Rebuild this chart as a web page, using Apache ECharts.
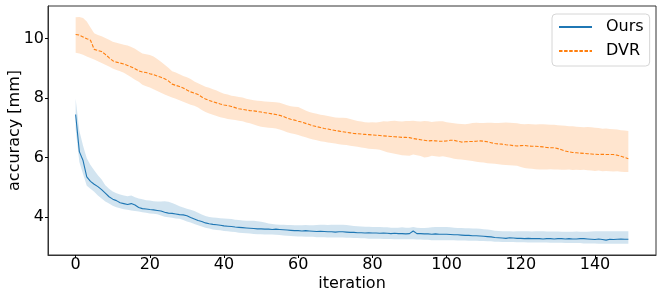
<!DOCTYPE html>
<html>
<head>
<meta charset="utf-8">
<script src="https://cdn.jsdelivr.net/npm/echarts@6/dist/echarts.min.js"></script>
<style>
html,body{margin:0;padding:0;background:#fff;}
#chart{width:664px;height:291px;}
</style>
</head>
<body>
<div id="chart"></div>
<script>
const iterations = Array.from({length: 150}, (_, i) => i);
const xTicks = [0, 20, 40, 60, 80, 100, 120, 140];
const yTicks = [4, 6, 8, 10];
const seriesNames = ['Ours', 'DVR'];

const dvrMean = [
10.14,10.12,10.06,10.00,9.95,9.64,9.60,9.57,9.47,9.36,
9.26,9.21,9.18,9.15,9.10,9.05,8.99,8.92,8.88,8.86,
8.82,8.79,8.74,8.70,8.65,8.58,8.47,8.43,8.39,8.34,
8.27,8.21,8.17,8.12,8.04,7.97,7.92,7.88,7.84,7.80,
7.77,7.75,7.72,7.68,7.64,7.62,7.60,7.58,7.57,7.55,
7.53,7.51,7.49,7.47,7.45,7.42,7.38,7.33,7.29,7.26,
7.22,7.19,7.15,7.11,7.07,7.04,7.01,6.98,6.96,6.93,
6.91,6.89,6.87,6.85,6.83,6.81,6.80,6.79,6.78,6.77,
6.76,6.75,6.74,6.73,6.72,6.71,6.70,6.69,6.68,6.68,
6.67,6.64,6.62,6.60,6.58,6.56,6.57,6.56,6.55,6.55,
6.56,6.58,6.58,6.55,6.52,6.53,6.54,6.54,6.55,6.56,
6.55,6.53,6.50,6.47,6.46,6.45,6.43,6.42,6.40,6.39,
6.40,6.41,6.39,6.38,6.38,6.37,6.36,6.34,6.33,6.33,
6.30,6.26,6.22,6.19,6.17,6.16,6.15,6.14,6.13,6.12,
6.11,6.10,6.11,6.10,6.10,6.10,6.08,6.04,6.00,5.96];

const dvrUpper = [
10.72,10.73,10.70,10.58,10.38,10.18,10.12,10.08,10.02,9.96,
9.90,9.86,9.83,9.80,9.77,9.72,9.66,9.58,9.50,9.48,
9.45,9.40,9.32,9.22,9.12,9.02,8.90,8.86,8.80,8.74,
8.70,8.64,8.56,8.50,8.44,8.38,8.35,8.30,8.26,8.20,
8.15,8.12,8.08,8.06,8.04,8.02,7.98,7.95,7.93,7.91,
7.90,7.89,7.88,7.87,7.86,7.84,7.80,7.76,7.73,7.71,
7.70,7.64,7.58,7.53,7.50,7.47,7.44,7.42,7.40,7.37,
7.35,7.34,7.34,7.33,7.30,7.26,7.23,7.21,7.19,7.18,
7.19,7.18,7.20,7.22,7.21,7.23,7.24,7.22,7.21,7.23,
7.23,7.24,7.22,7.21,7.23,7.22,7.20,7.21,7.22,7.22,
7.19,7.17,7.15,7.14,7.13,7.12,7.14,7.16,7.17,7.16,
7.16,7.17,7.17,7.16,7.16,7.17,7.18,7.17,7.16,7.15,
7.13,7.12,7.13,7.12,7.11,7.12,7.12,7.11,7.10,7.10,
7.09,7.08,7.07,7.05,7.05,7.04,7.03,7.02,7.03,7.02,
7.00,6.99,6.97,6.98,6.96,6.95,6.94,6.92,6.91,6.89];

const dvrLower = [
9.53,9.50,9.46,9.40,9.35,9.30,9.24,9.18,9.12,9.06,
9.00,8.95,8.90,8.85,8.78,8.70,8.62,8.55,8.45,8.40,
8.36,8.30,8.24,8.18,8.12,8.07,8.02,7.98,7.93,7.88,
7.83,7.78,7.74,7.68,7.60,7.53,7.48,7.44,7.40,7.36,
7.33,7.30,7.28,7.26,7.24,7.22,7.18,7.15,7.11,7.07,
7.04,7.02,7.00,6.99,6.98,6.94,6.90,6.85,6.82,6.79,
6.76,6.72,6.68,6.64,6.61,6.58,6.55,6.53,6.51,6.49,
6.47,6.45,6.43,6.42,6.40,6.38,6.36,6.34,6.32,6.30,
6.29,6.28,6.26,6.22,6.18,6.15,6.13,6.10,6.08,6.07,
6.06,6.10,6.08,6.05,6.00,6.02,6.06,6.04,6.03,6.04,
6.02,5.99,5.96,5.94,5.93,5.92,5.90,5.88,5.86,5.84,
5.83,5.81,5.80,5.79,5.77,5.76,5.75,5.74,5.73,5.72,
5.68,5.65,5.63,5.62,5.61,5.60,5.60,5.60,5.61,5.60,
5.60,5.59,5.59,5.60,5.58,5.59,5.58,5.59,5.57,5.56,
5.55,5.56,5.54,5.55,5.54,5.53,5.54,5.52,5.51,5.51];

const oursMean = [
7.45,6.20,5.90,5.35,5.20,5.10,5.02,4.92,4.80,4.68,
4.60,4.55,4.48,4.45,4.42,4.45,4.40,4.32,4.28,4.27,
4.25,4.24,4.22,4.20,4.16,4.13,4.12,4.10,4.08,4.07,
4.04,3.98,3.93,3.88,3.85,3.80,3.77,3.75,3.74,3.72,
3.70,3.69,3.68,3.66,3.65,3.64,3.63,3.62,3.61,3.60,
3.60,3.59,3.59,3.58,3.59,3.58,3.57,3.56,3.55,3.54,
3.54,3.53,3.54,3.53,3.52,3.51,3.52,3.51,3.50,3.50,
3.49,3.50,3.50,3.49,3.48,3.48,3.47,3.47,3.46,3.47,
3.46,3.46,3.45,3.46,3.45,3.44,3.45,3.44,3.44,3.43,
3.44,3.53,3.44,3.44,3.43,3.43,3.42,3.43,3.42,3.42,
3.42,3.41,3.40,3.40,3.39,3.38,3.38,3.37,3.37,3.36,
3.35,3.34,3.33,3.31,3.30,3.29,3.28,3.30,3.29,3.28,
3.28,3.27,3.28,3.27,3.27,3.27,3.26,3.27,3.27,3.26,
3.27,3.27,3.26,3.27,3.26,3.26,3.27,3.27,3.26,3.25,
3.24,3.26,3.24,3.22,3.25,3.24,3.25,3.26,3.25,3.25];

const oursUpper = [
7.98,6.90,6.40,5.98,5.75,5.57,5.40,5.26,5.07,4.95,
4.86,4.80,4.76,4.72,4.70,4.72,4.66,4.62,4.60,4.56,
4.55,4.53,4.52,4.52,4.53,4.51,4.47,4.42,4.36,4.32,
4.28,4.24,4.20,4.14,4.08,4.03,4.00,3.98,3.97,3.96,
3.95,3.94,3.93,3.91,3.90,3.88,3.87,3.87,3.87,3.86,
3.84,3.81,3.78,3.76,3.75,3.74,3.74,3.73,3.73,3.72,
3.72,3.72,3.73,3.72,3.72,3.73,3.74,3.74,3.73,3.74,
3.74,3.74,3.74,3.73,3.71,3.70,3.69,3.68,3.67,3.67,
3.66,3.66,3.66,3.65,3.65,3.64,3.64,3.64,3.65,3.64,
3.64,3.66,3.64,3.63,3.63,3.64,3.65,3.66,3.66,3.66,
3.66,3.65,3.64,3.63,3.63,3.62,3.62,3.61,3.61,3.60,
3.59,3.58,3.56,3.54,3.53,3.52,3.52,3.52,3.51,3.52,
3.52,3.52,3.52,3.51,3.52,3.52,3.52,3.51,3.51,3.51,
3.51,3.50,3.50,3.50,3.50,3.51,3.50,3.50,3.50,3.51,
3.52,3.52,3.52,3.52,3.52,3.52,3.52,3.52,3.52,3.52];

const oursLower = [
6.95,5.85,5.45,5.05,4.95,4.85,4.72,4.62,4.52,4.45,
4.38,4.33,4.29,4.26,4.24,4.22,4.20,4.18,4.16,4.14,
4.12,4.11,4.09,4.05,4.01,3.99,3.97,3.95,3.94,3.90,
3.85,3.81,3.76,3.72,3.68,3.64,3.61,3.58,3.56,3.55,
3.53,3.52,3.50,3.49,3.47,3.46,3.45,3.44,3.43,3.42,
3.42,3.41,3.41,3.41,3.40,3.39,3.38,3.37,3.36,3.35,
3.34,3.34,3.33,3.33,3.33,3.32,3.32,3.32,3.31,3.31,
3.31,3.31,3.31,3.30,3.30,3.29,3.29,3.28,3.28,3.27,
3.27,3.27,3.27,3.26,3.26,3.26,3.25,3.25,3.25,3.25,
3.25,3.25,3.24,3.24,3.23,3.23,3.22,3.22,3.22,3.22,
3.22,3.22,3.22,3.21,3.21,3.21,3.20,3.20,3.20,3.19,
3.19,3.18,3.18,3.17,3.17,3.16,3.16,3.16,3.16,3.15,
3.15,3.15,3.14,3.14,3.14,3.14,3.14,3.14,3.13,3.13,
3.13,3.13,3.12,3.12,3.12,3.12,3.12,3.11,3.11,3.11,
3.11,3.10,3.10,3.10,3.10,3.10,3.10,3.10,3.10,3.10];

const FONT = 'DejaVu Sans';
const BLUE = '#1f77b4', ORANGE = '#ff7f0e';

function bandSeries(id, upper, lower, fill) {
  return {
    id: id,
    type: 'custom',
    silent: true,
    z: 1,
    data: [[iterations[0], upper[0]]],
    encode: {x: 0, y: 1},
    renderItem: function (params, api) {
      if (params.dataIndex !== 0) return null;
      const pts = [];
      for (let i = 0; i < upper.length; i++) pts.push(api.coord([iterations[i], upper[i]]));
      for (let i = lower.length - 1; i >= 0; i--) pts.push(api.coord([iterations[i], lower[i]]));
      return {type: 'polygon', shape: {points: pts}, style: {fill: fill, stroke: null}};
    }
  };
}

const chart = echarts.init(document.getElementById('chart'), null, {renderer: 'canvas'});
chart.setOption({
  animation: false,
  backgroundColor: '#ffffff',
  textStyle: {fontFamily: FONT},
  grid: {left: 48, right: 8, top: 6, bottom: 36, containLabel: false, outerBoundsMode: 'none',
         show: true, borderColor: '#333', borderWidth: 1, backgroundColor: 'transparent'},
  legend: {
    data: seriesNames,
    orient: 'vertical',
    left: 552, top: 14,
    padding: [5, 6, 7, 6],
    itemGap: 8,
    itemWidth: 33, itemHeight: 14,
    backgroundColor: '#ffffff',
    borderColor: '#d6d6d6', borderWidth: 1, borderRadius: 4,
    itemStyle: {opacity: 0},
    textStyle: {fontSize: 16, color: '#000', fontFamily: FONT, padding: [0, 0, 0, 9]}
  },
  xAxis: {
    type: 'value', min: -7.45, max: 156.45,
    name: 'iteration', nameLocation: 'middle', nameGap: 21, nameMoveOverlap: false,
    nameTextStyle: {fontSize: 16, color: '#000', fontFamily: FONT},
    axisLine: {show: true, onZero: false, lineStyle: {color: '#333', width: 1}},
    axisTick: {show: true, length: 3, customValues: xTicks, lineStyle: {color: '#000'}},
    axisLabel: {customValues: xTicks, fontSize: 16, color: '#000', margin: 2, fontFamily: FONT},
    splitLine: {show: false}
  },
  yAxis: {
    type: 'value', min: 2.72, max: 11.1,
    name: 'accuracy [mm]', nameLocation: 'middle', nameGap: 25, nameMoveOverlap: false,
    nameTextStyle: {fontSize: 16, color: '#000', fontFamily: FONT},
    axisLine: {show: true, onZero: false, lineStyle: {color: '#333', width: 1}},
    axisTick: {show: true, length: 3, customValues: yTicks, lineStyle: {color: '#000'}},
    axisLabel: {customValues: yTicks, fontSize: 16, color: '#000', margin: 4, fontFamily: FONT},
    splitLine: {show: false}
  },
  series: [
    bandSeries('oursBand', oursUpper, oursLower, 'rgba(31,119,180,0.2)'),
    bandSeries('dvrBand', dvrUpper, dvrLower, 'rgba(255,127,14,0.2)'),
    {
      name: 'Ours', type: 'line', z: 3,
      data: iterations.map((x, i) => [x, oursMean[i]]),
      symbol: 'none', showSymbol: false,
      itemStyle: {color: BLUE},
      lineStyle: {color: BLUE, width: 1.1}
    },
    {
      name: 'DVR', type: 'line', z: 3,
      data: iterations.map((x, i) => [x, dvrMean[i]]),
      symbol: 'none', showSymbol: false,
      itemStyle: {color: ORANGE},
      lineStyle: {color: ORANGE, width: 1.1, type: [3.5, 1.6]}
    }
  ]
});
</script>
</body>
</html>
